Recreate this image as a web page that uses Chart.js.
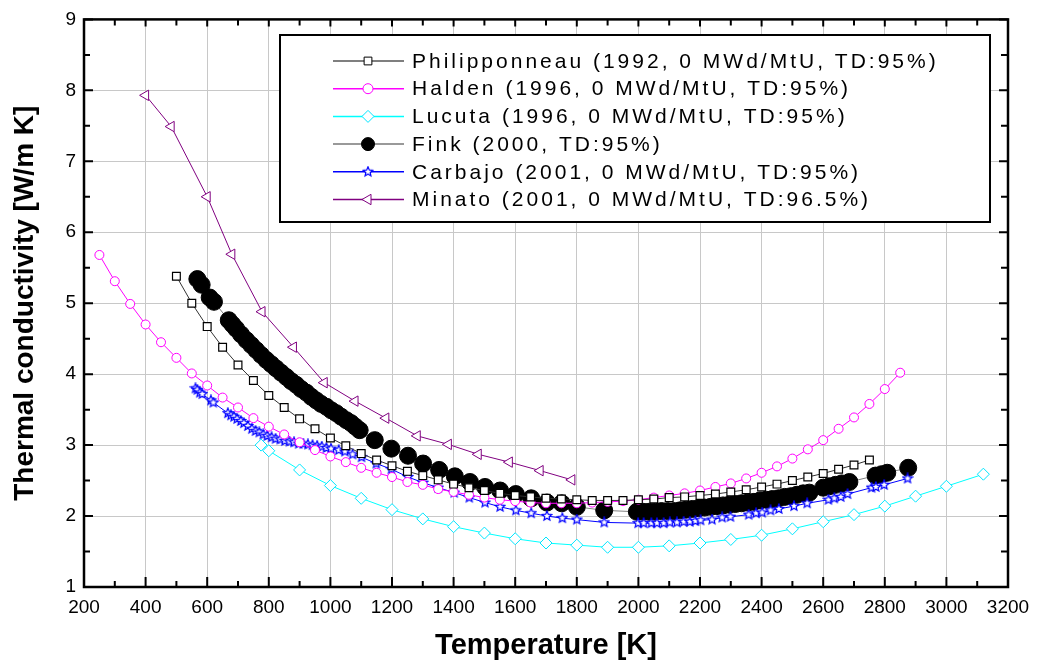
<!DOCTYPE html>
<html>
<head>
<meta charset="utf-8">
<script src="https://cdn.jsdelivr.net/npm/chart.js@4.4.0/dist/chart.umd.min.js"></script>
<style>
  body { margin: 0; background: #fff; }
  canvas { display: block; }
</style>
</head>
<body>
<canvas id="kChart" width="1039" height="663"></canvas>
<script>
// Axis ticks
const xTicks = [200, 400, 600, 800, 1000, 1200, 1400, 1600, 1800, 2000, 2200, 2400, 2600, 2800, 3000, 3200];
const yTicks = [1, 2, 3, 4, 5, 6, 7, 8, 9];

// Series labels
const labels = [
    'Philipponneau (1992, 0 MWd/MtU, TD:95%)',
    'Halden (1996, 0 MWd/MtU, TD:95%)',
    'Lucuta (1996, 0 MWd/MtU, TD:95%)',
    'Fink (2000, TD:95%)',
    'Carbajo (2001, 0 MWd/MtU, TD:95%)',
    'Minato (2001, 0 MWd/MtU, TD:96.5%)'
];

// Philipponneau
const philT = [500, 550, 600, 650, 700, 750, 800, 850, 900, 950, 1000, 1050, 1100, 1150, 1200, 1250, 1300, 1350, 1400, 1450,
    1500, 1550, 1600, 1650, 1700, 1750, 1800, 1850, 1900, 1950, 2000, 2050, 2100, 2150, 2200, 2250, 2300, 2350, 2400, 2450,
    2500, 2550, 2600, 2650, 2700, 2750];
const philK = [5.38, 5.00, 4.67, 4.38, 4.13, 3.91, 3.70, 3.53, 3.37, 3.23, 3.10, 2.99, 2.88, 2.79, 2.71, 2.63, 2.57, 2.51, 2.45, 2.40,
    2.36, 2.32, 2.29, 2.27, 2.25, 2.24, 2.23, 2.22, 2.22, 2.22, 2.23, 2.24, 2.26, 2.27, 2.29, 2.31, 2.34, 2.37, 2.41, 2.45,
    2.50, 2.55, 2.60, 2.66, 2.72, 2.79];

// Halden
const haldenT = [250, 300, 350, 400, 450, 500, 550, 600, 650, 700, 750, 800, 850, 900, 950, 1000, 1050, 1100, 1150, 1200,
    1250, 1300, 1350, 1400, 1450, 1500, 1550, 1600, 1650, 1700, 1750, 1800, 1850, 1900, 1950, 2000, 2050, 2100, 2150, 2200,
    2250, 2300, 2350, 2400, 2450, 2500, 2550, 2600, 2650, 2700, 2750, 2800, 2850];
const haldenK = [5.68, 5.31, 4.99, 4.70, 4.45, 4.23, 4.01, 3.84, 3.67, 3.53, 3.38, 3.26, 3.15, 3.04, 2.93, 2.84, 2.76, 2.68, 2.61, 2.55,
    2.48, 2.44, 2.38, 2.34, 2.30, 2.26, 2.23, 2.21, 2.19, 2.18, 2.18, 2.18, 2.19, 2.20, 2.21, 2.23, 2.26, 2.29, 2.32, 2.36,
    2.41, 2.46, 2.53, 2.61, 2.70, 2.81, 2.94, 3.07, 3.23, 3.39, 3.58, 3.79, 4.02];

// Lucuta
const lucutaT = [775, 800, 900, 1000, 1100, 1200, 1300, 1400, 1500, 1600, 1700, 1800, 1900, 2000, 2100, 2200, 2300, 2400, 2500,
    2600, 2700, 2800, 2900, 3000, 3120];
const lucutaK = [3.00, 2.92, 2.65, 2.43, 2.25, 2.09, 1.96, 1.85, 1.76, 1.68, 1.62, 1.59, 1.56, 1.56, 1.58, 1.62, 1.67, 1.73, 1.82,
    1.92, 2.02, 2.14, 2.28, 2.42, 2.59];

// Fink
const finkT = [568, 582, 608, 622, 670, 682, 694, 710, 727, 743, 759, 775, 792, 808, 824, 840, 857, 873, 889, 905,
    922, 938, 954, 970, 987, 1003, 1019, 1035, 1052, 1067, 1081, 1095, 1144, 1198, 1252, 1301, 1353, 1404, 1453, 1502,
    1551, 1602, 1652, 1703, 1751, 1800, 1889, 1995, 2015, 2035, 2055, 2075, 2095, 2115, 2135, 2155, 2175, 2195, 2215, 2235,
    2255, 2275, 2295, 2315, 2335, 2355, 2375, 2395, 2415, 2435, 2455, 2475, 2495, 2515, 2535, 2555, 2600, 2620, 2640, 2660,
    2685, 2770, 2790, 2808, 2876];
const finkK = [5.34, 5.26, 5.08, 5.02, 4.76, 4.70, 4.64, 4.56, 4.48, 4.41, 4.34, 4.27, 4.20, 4.14, 4.08, 4.02, 3.96, 3.90, 3.85, 3.79,
    3.74, 3.68, 3.63, 3.58, 3.54, 3.49, 3.45, 3.40, 3.35, 3.31, 3.26, 3.21, 3.07, 2.95, 2.85, 2.74, 2.65, 2.56, 2.48, 2.41,
    2.36, 2.31, 2.25, 2.19, 2.18, 2.13, 2.08, 2.06, 2.06, 2.06, 2.06, 2.07, 2.07, 2.07, 2.08, 2.09, 2.10, 2.11, 2.12, 2.13,
    2.14, 2.15, 2.16, 2.17, 2.18, 2.19, 2.20, 2.22, 2.23, 2.24, 2.25, 2.27, 2.28, 2.30, 2.32, 2.33, 2.40, 2.42, 2.44, 2.46,
    2.48, 2.57, 2.59, 2.61, 2.68];

// Carbajo
const carbajoT = [562, 568, 576, 584, 612, 620, 667, 677, 687, 697, 709, 719, 732, 745, 757, 769, 782, 795, 809, 822,
    837, 852, 867, 882, 897, 912, 927, 942, 957, 972, 987, 1002, 1027, 1047, 1072, 1101, 1149, 1198, 1252, 1301,
    1350, 1402, 1451, 1502, 1551, 1602, 1652, 1703, 1753, 1800, 1889, 1999, 2017, 2042, 2060, 2082, 2102, 2125, 2147, 2167,
    2185, 2202, 2239, 2272, 2299, 2358, 2382, 2402, 2429, 2456, 2505, 2548, 2617, 2636, 2657, 2679, 2757, 2771, 2798, 2874];
const carbajoK = [3.80, 3.78, 3.74, 3.72, 3.63, 3.60, 3.45, 3.42, 3.40, 3.37, 3.34, 3.31, 3.27, 3.23, 3.20, 3.18, 3.15, 3.13, 3.11, 3.09,
    3.08, 3.06, 3.05, 3.04, 3.02, 3.02, 3.01, 3.00, 2.99, 2.98, 2.96, 2.95, 2.93, 2.91, 2.87, 2.83, 2.74, 2.66, 2.55, 2.47,
    2.40, 2.33, 2.26, 2.19, 2.13, 2.08, 2.04, 2.00, 1.97, 1.95, 1.91, 1.90, 1.90, 1.90, 1.90, 1.90, 1.91, 1.91, 1.92, 1.92,
    1.93, 1.94, 1.95, 1.98, 1.99, 2.02, 2.04, 2.05, 2.08, 2.10, 2.14, 2.18, 2.23, 2.25, 2.27, 2.31, 2.40, 2.41, 2.44, 2.53];

// Minato
const minatoT = [400, 483, 600, 680, 778, 880, 980, 1080, 1180, 1282, 1383, 1480, 1581, 1681, 1784];
const minatoK = [7.93, 7.49, 6.50, 5.69, 4.88, 4.38, 3.88, 3.62, 3.38, 3.13, 3.01, 2.87, 2.76, 2.64, 2.51];

const pts = (xs, ys) => xs.map((x, i) => ({ x: x, y: ys[i] }));

// 5-point hollow star marker
function makeStar(size, color) {
    const c = document.createElement('canvas');
    c.width = size; c.height = size;
    const g = c.getContext('2d');
    const cx = size / 2, cy = size / 2, ro = size / 2 - 1, ri = ro * 0.45;
    g.beginPath();
    for (let i = 0; i < 10; i++) {
        const r = i % 2 === 0 ? ro : ri;
        const a = -Math.PI / 2 + i * Math.PI / 5;
        g.lineTo(cx + r * Math.cos(a), cy + r * Math.sin(a));
    }
    g.closePath();
    g.fillStyle = '#fff';
    g.fill();
    g.strokeStyle = color;
    g.lineWidth = 1.2;
    g.stroke();
    return c;
}
const starImg = makeStar(12, '#0000ff');

const FONT = "'Liberation Sans', Arial, sans-serif";

// inward ticks and frame
const frameTicks = {
    id: 'frameTicks',
    afterDatasetsDraw(chart) {
        const { ctx, chartArea: a, scales: { x, y } } = chart;
        ctx.save();
        ctx.strokeStyle = '#000';
        ctx.lineWidth = 2;
        ctx.beginPath();
        for (let i = 0; i < xTicks.length; i++) {
            const major = x.getPixelForValue(xTicks[i]);
            ctx.moveTo(major, a.bottom); ctx.lineTo(major, a.bottom - 10);
            ctx.moveTo(major, a.top); ctx.lineTo(major, a.top + 7);
            if (i < xTicks.length - 1) {
                const minor = x.getPixelForValue((xTicks[i] + xTicks[i + 1]) / 2);
                ctx.moveTo(minor, a.bottom); ctx.lineTo(minor, a.bottom - 6);
                ctx.moveTo(minor, a.top); ctx.lineTo(minor, a.top + 6);
            }
        }
        for (let i = 0; i < yTicks.length; i++) {
            const major = y.getPixelForValue(yTicks[i]);
            ctx.moveTo(a.left, major); ctx.lineTo(a.left + 9, major);
            ctx.moveTo(a.right, major); ctx.lineTo(a.right - 9, major);
            if (i < yTicks.length - 1) {
                const minor = y.getPixelForValue((yTicks[i] + yTicks[i + 1]) / 2);
                ctx.moveTo(a.left, minor); ctx.lineTo(a.left + 6, minor);
                ctx.moveTo(a.right, minor); ctx.lineTo(a.right - 7, minor);
            }
        }
        ctx.stroke();
        ctx.lineWidth = 2.5;
        ctx.strokeRect(a.left, a.top, a.width, a.height);
        ctx.restore();
    }
};

// boxed legend inside the plot
const boxLegend = {
    id: 'boxLegend',
    afterDraw(chart) {
        const ctx = chart.ctx;
        const box = { left: 280, top: 35, right: 990, bottom: 222 };
        ctx.save();
        ctx.fillStyle = '#fff';
        ctx.fillRect(box.left, box.top, box.right - box.left, box.bottom - box.top);
        ctx.strokeStyle = '#000';
        ctx.lineWidth = 2;
        ctx.strokeRect(box.left, box.top, box.right - box.left, box.bottom - box.top);

        chart.data.datasets.forEach((ds, i) => {
            const yy = 61 + i * 27.7;
            ctx.strokeStyle = ds.legendLine || ds.borderColor;
            ctx.lineWidth = 1.5;
            ctx.beginPath();
            ctx.moveTo(333, yy); ctx.lineTo(404, yy);
            ctx.stroke();
            ctx.fillStyle = ds.pointBackgroundColor;
            ctx.strokeStyle = ds.pointBorderColor;
            ctx.lineWidth = 1;
            Chart.helpers.drawPoint(ctx, {
                pointStyle: ds.pointStyle,
                rotation: ds.pointRotation || 0,
                radius: ds.legendRadius,
                borderWidth: 1
            }, 368, yy);
            ctx.fillStyle = '#000';
            ctx.font = '21px ' + FONT;
            ctx.letterSpacing = '3px';
            ctx.textBaseline = 'middle';
            ctx.fillText(ds.label, 412, yy + 1);
            ctx.letterSpacing = '0px';
        });
        ctx.restore();
    }
};

const ctx = document.getElementById('kChart').getContext('2d');
const kChart = new Chart(ctx, {
    type: 'scatter',
    data: {
        datasets: [
            {
                label: labels[0], data: pts(philT, philK), showLine: true,
                borderColor: '#333', borderWidth: 1, legendLine: '#555',
                pointStyle: 'rect', pointRadius: 5.5, legendRadius: 5.5,
                pointBackgroundColor: '#fff', pointBorderColor: '#000', pointBorderWidth: 1.2
            },
            {
                label: labels[1], data: pts(haldenT, haldenK), showLine: true,
                borderColor: '#ff00ff', borderWidth: 1,
                pointStyle: 'circle', pointRadius: 4.5, legendRadius: 5,
                pointBackgroundColor: '#fff', pointBorderColor: '#ff00ff', pointBorderWidth: 1
            },
            {
                label: labels[2], data: pts(lucutaT, lucutaK), showLine: true,
                borderColor: '#00ffff', borderWidth: 1,
                pointStyle: 'rectRot', pointRadius: 6, legendRadius: 6,
                pointBackgroundColor: '#fff', pointBorderColor: '#00e5ff', pointBorderWidth: 1
            },
            {
                label: labels[3], data: pts(finkT, finkK), showLine: true, order: 10,
                borderColor: '#808080', borderWidth: 1, legendLine: '#777',
                pointStyle: 'circle', pointRadius: 8.5, legendRadius: 6.5,
                pointBackgroundColor: '#000', pointBorderColor: '#000', pointBorderWidth: 1
            },
            {
                label: labels[4], data: pts(carbajoT, carbajoK), showLine: true,
                borderColor: '#0000ff', borderWidth: 1,
                pointStyle: starImg, pointRadius: 6, legendRadius: 6,
                pointBackgroundColor: '#fff', pointBorderColor: '#0000ff', pointBorderWidth: 1
            },
            {
                label: labels[5], data: pts(minatoT, minatoK), showLine: true,
                borderColor: '#800080', borderWidth: 1,
                pointStyle: 'triangle', pointRotation: -90, pointRadius: 6, legendRadius: 6,
                pointBackgroundColor: '#fff', pointBorderColor: '#800080', pointBorderWidth: 1
            }
        ]
    },
    options: {
        responsive: false,
        animation: false,
        layout: { padding: { top: 19, right: 31, left: 0, bottom: 0 } },
        plugins: {
            legend: { display: false },
            tooltip: { enabled: false }
        },
        scales: {
            x: {
                type: 'linear', min: 200, max: 3200,
                afterBuildTicks: s => { s.ticks = xTicks.map(v => ({ value: v })); },
                afterFit: s => { s.height = 76; },
                grid: { color: '#c8c8c8', lineWidth: 1, drawTicks: false },
                border: { display: false },
                ticks: {
                    color: '#000', padding: 9, maxRotation: 0, autoSkip: false,
                    font: { family: FONT, size: 19 }, callback: v => String(v)
                },
                title: {
                    display: true, text: 'Temperature [K]', color: '#000',
                    font: { family: FONT, size: 29, weight: 'bold' }, padding: { top: 5, bottom: 0 }
                }
            },
            y: {
                type: 'linear', min: 1, max: 9,
                afterBuildTicks: s => { s.ticks = yTicks.map(v => ({ value: v })); },
                afterFit: s => { s.width = 84; },
                grid: { color: '#c8c8c8', lineWidth: 1, drawTicks: false },
                border: { display: false },
                ticks: { color: '#000', padding: 8, font: { family: FONT, size: 19 } },
                title: {
                    display: true, text: 'Thermal conductivity [W/m K]', color: '#000',
                    font: { family: FONT, size: 28, weight: 'bold' }, padding: { top: 8, bottom: 0 }
                }
            }
        }
    },
    plugins: [frameTicks, boxLegend]
});
</script>
</body>
</html>
